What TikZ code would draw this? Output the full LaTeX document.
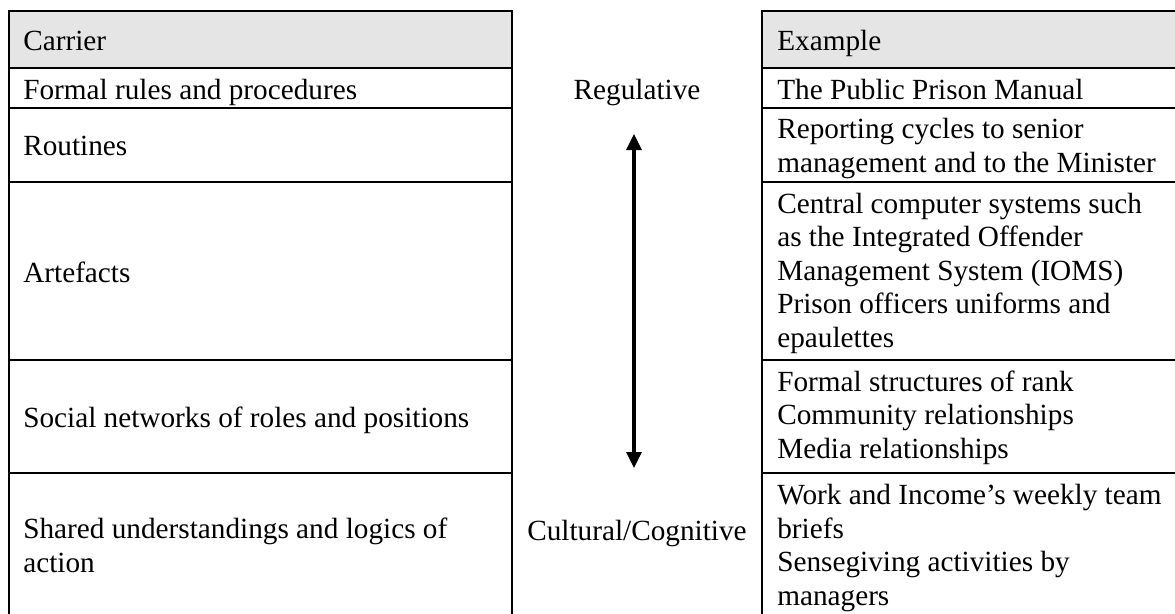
\documentclass[tikz,border=0pt]{standalone}
\usepackage{fontspec}
\setmainfont{Liberation Serif}
\usetikzlibrary{arrows.meta}

\definecolor{headgray}{gray}{0.9}
\newcommand{\cellfont}{\fontsize{20.8}{23.8}\selectfont}

\begin{document}
\begin{tikzpicture}[x=0.025cm, y=-0.025cm,
    cell/.style={anchor=base west, inner sep=0pt, align=left, font=\cellfont},
    mid/.style={anchor=base, inner sep=0pt, font=\cellfont},
    rule/.style={line width=1.5pt, line cap=rect}]

    \useasboundingbox (0,0) rectangle (1175,613);

    \fill [headgray] (9,11) rectangle (512,68);
    \fill [headgray] (762,11) rectangle (1175,68);

    \foreach \y in {11,68,108,182,360,473}
    {
        \draw [rule] (9,\y) -- (512,\y);
        \draw [rule] (762,\y) -- (1175,\y);
    }

    \foreach \x in {9,512,762}
    {
        \draw [rule] (\x,11) -- (\x,613);
    }

    % carriers (multi-line nodes sit on their last baseline)
    \node [cell] (carrier) at (23,50) {Carrier};
    \node [cell] (rules) at (23,99) {Formal rules and procedures};
    \node [cell] (routines) at (23,155) {Routines};
    \node [cell] (artefacts) at (23,282) {Artefacts};
    \node [cell] (networks) at (23,427) {Social networks of roles and positions};
    \node [cell] (shared) at (23,572) {Shared understandings and logics of\\action};

    % examples
    \node [cell] (example) at (777,50) {Example};
    \node [cell] (manual) at (777,99) {The Public Prison Manual};
    \node [cell] (reporting) at (777,172) {Reporting cycles to senior\\management and to the Minister};
    \node [cell] (systems) at (777,347) {Central computer systems such\\as the Integrated Offender\\Management System (IOMS)\\Prison officers uniforms and\\epaulettes};
    \node [cell] (rank) at (777,458) {Formal structures of rank\\Community relationships\\Media relationships};
    \node [cell] (briefs) at (777,605) {Work and Income's weekly team\\briefs\\Sensegiving activities by\\managers};

    % pillars
    \node [mid] (regulative) at (637,99) {Regulative};
    \node [mid] (cognitive) at (637,540) {Cultural/Cognitive};

    \coordinate (up) at (634,134);
    \coordinate (down) at (634,468);
    \draw [{Triangle[width=0.375cm,length=0.4cm]}-{Triangle[width=0.375cm,length=0.4cm]}, line width=2.2pt] (up) -- (down);

\end{tikzpicture}
\end{document}
